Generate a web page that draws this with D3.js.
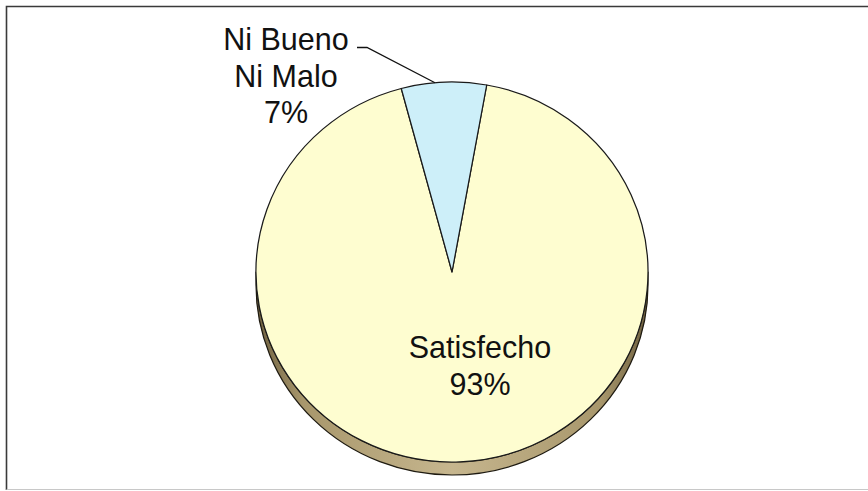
<!DOCTYPE html>
<html>
<head>
<meta charset="utf-8">
<script src="https://cdn.jsdelivr.net/npm/d3@7/dist/d3.min.js"></script>
<style>
  html, body { margin: 0; padding: 0; background: #ffffff; }
  svg { display: block; }
  text { font-family: "Liberation Sans", Arial, sans-serif; fill: #111; }
</style>
</head>
<body>
<svg id="chart" width="868" height="491"></svg>
<script>
// Survey result: satisfaction share
const categories = ["Satisfecho", "Ni Bueno Ni Malo"];
const values = [93, 7];
const labelLines = [["Satisfecho", "93%"], ["Ni Bueno", "Ni Malo", "7%"]];
const colors = ["#fefdd0", "#cdeff9"];

const W = 868, H = 491;
const cx = 452, cy = 272;
const r = 190;            // vertical radius of the pie top
const sx = 196 / 190;     // horizontal stretch of the tilted pie
const depth = 13;         // thickness of the pie edge
const rot = 10.2 * Math.PI / 180;

const svg = d3.select("#chart");

// outer frame: strong top and left edges, faint bottom edge
svg.append("path")
  .attr("d", "M6.5,490 L6.5,6.5 L868,6.5")
  .attr("fill", "none")
  .attr("stroke", "#3a3a3a")
  .attr("stroke-width", 1.6);
svg.append("path")
  .attr("d", "M6.5,489.5 L868,489.5")
  .attr("fill", "none")
  .attr("stroke", "#c8c8c8")
  .attr("stroke-width", 1);

const pie = d3.pie().sort(null).value(d => d)
  .startAngle(rot).endAngle(rot + 2 * Math.PI);
const arcs = pie(values);
const arc = d3.arc().innerRadius(0).outerRadius(r);

const defs = svg.append("defs");
const grad = defs.append("linearGradient").attr("id", "edge")
  .attr("x1", "0%").attr("x2", "100%").attr("y1", "0%").attr("y2", "0%");
grad.append("stop").attr("offset", "0%").attr("stop-color", "#6e6040");
grad.append("stop").attr("offset", "12%").attr("stop-color", "#a8976c");
grad.append("stop").attr("offset", "50%").attr("stop-color", "#c6b68e");
grad.append("stop").attr("offset", "88%").attr("stop-color", "#a8976c");
grad.append("stop").attr("offset", "100%").attr("stop-color", "#6e6040");

const g = svg.append("g")
  .attr("transform", `translate(${cx},${cy}) scale(${sx},1)`);

// visible front edge: lower half of the pie, extruded downward
function sidePath(a0, a1) {
  // clamp slice range to the front half (pi/2 .. 3pi/2 measured from 12 o'clock)
  const lo = Math.max(a0, Math.PI / 2), hi = Math.min(a1, 3 * Math.PI / 2);
  if (hi <= lo) return null;
  const c0 = lo - Math.PI / 2, c1 = hi - Math.PI / 2;
  const p = d3.path();
  p.moveTo(r * Math.cos(c0), r * Math.sin(c0));
  p.arc(0, 0, r, c0, c1);
  p.lineTo(r * Math.cos(c1), r * Math.sin(c1) + depth);
  p.arc(0, depth, r, c1, c0, true);
  p.closePath();
  return p.toString();
}

arcs.forEach((d, i) => {
  const sp = sidePath(d.startAngle, d.endAngle);
  if (sp) {
    g.append("path")
      .attr("d", sp)
      .attr("fill", "url(#edge)")
      .attr("stroke", "#1e1a10")
      .attr("stroke-width", 1.2)
      .attr("stroke-linejoin", "round");
  }
});

g.selectAll("path.slice")
  .data(arcs)
  .join("path")
  .attr("class", "slice")
  .attr("d", arc)
  .attr("fill", (d, i) => colors[i])
  .attr("stroke", "#1a1a1a")
  .attr("stroke-width", 1.2)
  .attr("stroke-linejoin", "round");

// labels
const fontSize = 30.5, lineH = 36.5;

// Satisfecho label inside the pie
const lab0 = svg.append("text")
  .attr("text-anchor", "middle")
  .attr("font-size", fontSize);
labelLines[0].forEach((t, k) => {
  lab0.append("tspan").attr("x", 480).attr("y", 358 + k * lineH).text(t);
});

// Ni Bueno Ni Malo label outside with leader line
const lab1 = svg.append("text")
  .attr("text-anchor", "middle")
  .attr("font-size", fontSize);
labelLines[1].forEach((t, k) => {
  lab1.append("tspan").attr("x", 286).attr("y", 50 + k * lineH).text(t);
});

const small = arcs[1];
const mid = (small.startAngle + small.endAngle) / 2 - 0.045;
const ex = cx + sx * r * Math.sin(mid);
const ey = cy - r * Math.cos(mid);
svg.append("path")
  .attr("d", d3.line()([[357, 47.5], [367, 47.5], [ex, ey]]))
  .attr("fill", "none")
  .attr("stroke", "#111")
  .attr("stroke-width", 1.3);
</script>
</body>
</html>
